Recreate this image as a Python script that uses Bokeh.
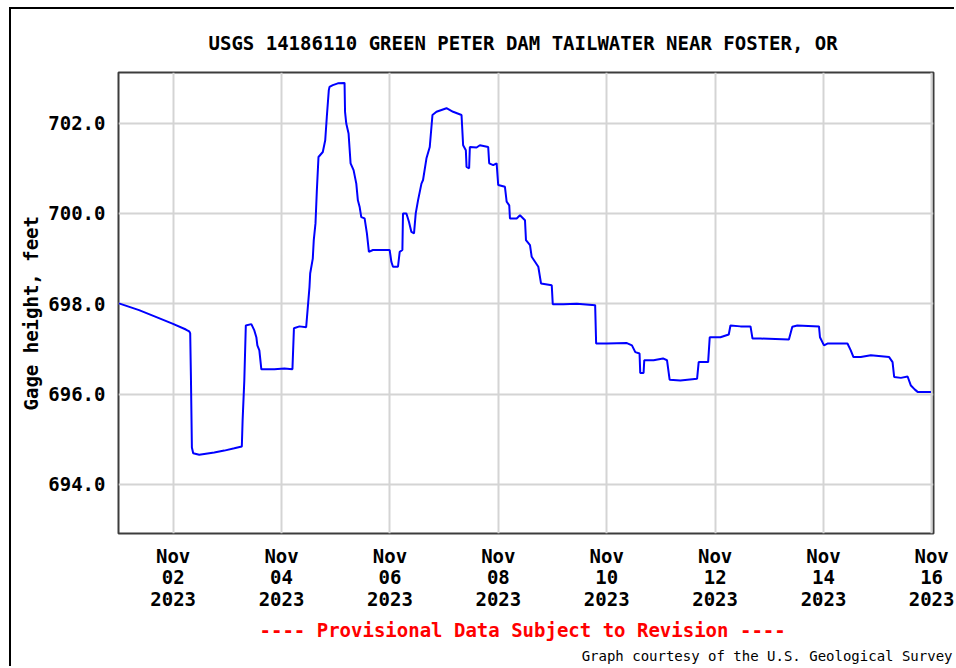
import pandas as pd
from bokeh.plotting import figure
from bokeh.models import (Range1d, FixedTicker, DatetimeTickFormatter,
                          PrintfTickFormatter, Title, ColumnDataSource)
from bokeh.embed import file_html
from bokeh.resources import INLINE

# ---- data (hours since 2023-11-01 00:00, gage height in feet) ----
start = "2023-11-01 00:00"
hours = [0.0, 8.91, 16.32, 23.69, 29.64, 31.10, 31.55, 31.86, 32.30, 32.88,
         35.54, 42.20, 46.64, 51.08, 54.41, 54.76, 55.51, 56.18, 58.62, 59.95,
         60.84, 61.29, 62.17, 63.06, 68.83, 73.27, 76.82, 77.49, 79.93, 82.90,
         84.37, 84.68, 85.83, 86.27, 87.03, 87.61, 88.36, 90.27, 91.34, 92.05,
         92.93, 93.24, 94.71, 96.93, 99.90, 100.12, 100.66, 101.68, 102.57, 103.90,
         105.10, 105.80, 106.56, 107.31, 108.78, 109.80, 110.69, 112.46, 115.44, 119.88,
         120.63, 121.34, 123.56, 124.32, 125.51, 125.78, 127.29, 128.44, 129.51, 130.66,
         131.42, 132.44, 133.95, 134.66, 136.17, 137.63, 138.83, 140.61, 145.04, 147.97,
         151.70, 152.41, 153.61, 153.92, 155.07, 155.39, 158.36, 159.82, 163.51, 163.95,
         165.73, 167.24, 167.95, 170.92, 171.68, 172.83, 173.14, 176.12, 177.58, 179.80,
         180.24, 182.02, 182.77, 184.24, 185.70, 186.90, 191.65, 192.10, 196.80, 202.75,
         210.87, 211.31, 216.06, 224.94, 227.16, 228.65, 230.53, 230.84, 232.31, 232.62,
         236.75, 240.92, 242.70, 243.85, 248.60, 256.01, 256.72, 260.90, 261.61, 266.35,
         270.04, 270.79, 275.23, 279.67, 280.56, 284.11, 296.67, 298.18, 300.40, 309.99,
         310.43, 312.21, 313.72, 322.60, 324.06, 325.26, 328.50, 332.94, 341.06, 342.57,
         343.28, 346.26, 349.23, 350.69, 352.47, 353.66, 359.57]
gage = [698.01, 697.86, 697.71, 697.56, 697.43, 697.39, 697.35, 696.42, 694.82, 694.69,
        694.66, 694.71, 694.75, 694.80, 694.84, 695.42, 696.30, 697.52, 697.55, 697.41,
        697.26, 697.08, 696.97, 696.55, 696.55, 696.57, 696.55, 697.46, 697.50, 697.48,
        698.37, 698.67, 699.00, 699.41, 699.78, 700.48, 701.25, 701.36, 701.62, 702.14,
        702.73, 702.80, 702.84, 702.88, 702.89, 702.25, 701.99, 701.77, 701.11, 700.96,
        700.66, 700.29, 700.15, 699.92, 699.89, 699.56, 699.15, 699.19, 699.19, 699.19,
        698.93, 698.82, 698.82, 699.15, 699.19, 700.00, 700.00, 699.81, 699.59, 699.56,
        700.00, 700.29, 700.66, 700.74, 701.22, 701.47, 702.18, 702.25, 702.33, 702.25,
        702.18, 701.51, 701.40, 701.03, 701.00, 701.47, 701.46, 701.51, 701.47, 701.11,
        701.07, 701.11, 700.63, 700.59, 700.26, 700.18, 699.89, 699.89, 699.96, 699.85,
        699.41, 699.30, 699.04, 698.93, 698.82, 698.45, 698.41, 697.99, 697.99, 698.00,
        697.97, 697.12, 697.12, 697.13, 697.08, 696.93, 696.90, 696.47, 696.47, 696.75,
        696.75, 696.79, 696.75, 696.32, 696.30, 696.34, 696.71, 696.71, 697.26, 697.26,
        697.32, 697.52, 697.50, 697.50, 697.23, 697.23, 697.21, 697.49, 697.52, 697.50,
        697.26, 697.08, 697.12, 697.12, 696.97, 696.82, 696.82, 696.86, 696.82, 696.71,
        696.38, 696.36, 696.39, 696.19, 696.10, 696.05, 696.05]

tick_dates = ["2023-11-02", "2023-11-04", "2023-11-06", "2023-11-08",
              "2023-11-10", "2023-11-12", "2023-11-14", "2023-11-16"]
y_ticks = [694, 696, 698, 700, 702]

title_text = "USGS 14186110 GREEN PETER DAM TAILWATER NEAR FOSTER, OR"
y_label = "Gage height, feet"
provisional = "---- Provisional Data Subject to Revision ----"
courtesy = "Graph courtesy of the U.S. Geological Survey"

# ---- build ----
t0 = pd.Timestamp(start)
times = [t0 + pd.Timedelta(hours=h) for h in hours]
src = ColumnDataSource(dict(t=times, v=gage))

FONT = "DejaVu Sans Mono"

p = figure(width=945, height=659, x_axis_type="datetime",
           output_backend="svg", toolbar_location=None,
           x_range=Range1d(t0 - pd.Timedelta(hours=0.2), t0 + pd.Timedelta(hours=360.7)),
           y_range=Range1d(692.915, 703.12),
           min_border_left=107, min_border_right=23,
           min_border_top=63, min_border_bottom=135)
p.styles = {"margin-left": "9px", "margin-top": "7px",
            "border-left": "2px solid #000000", "border-top": "2px solid #000000"}
p.background_fill_color = "white"
p.border_fill_color = "white"
p.outline_line_color = "#3c3c3c"
p.outline_line_width = 2

p.line("t", "v", source=src, line_color="#0000ff", line_width=2)

tick_ms = [pd.Timestamp(d).value / 1e6 for d in tick_dates]
p.xaxis.ticker = FixedTicker(ticks=tick_ms)
fmt = "%b\n%d\n%Y"
p.xaxis.formatter = DatetimeTickFormatter(days=fmt, months=fmt, hours=fmt,
                                          years=fmt, minutes=fmt)
p.yaxis.ticker = FixedTicker(ticks=y_ticks)
p.yaxis.formatter = PrintfTickFormatter(format="%.1f")

for ax in (p.xaxis[0], p.yaxis[0]):
    ax.axis_line_color = None
    ax.major_tick_line_color = None
    ax.minor_tick_line_color = None
    ax.major_tick_out = 0
    ax.major_tick_in = 0
    ax.major_label_text_font = FONT
    ax.major_label_text_font_style = "bold"
    ax.major_label_text_font_size = "19px"
    ax.major_label_text_color = "#000000"

p.xaxis.major_label_standoff = 11
p.xaxis.major_label_text_line_height = 0.98
p.yaxis.major_label_standoff = 13

p.xgrid.grid_line_color = "#d4d4d4"
p.ygrid.grid_line_color = "#d4d4d4"
p.xgrid.grid_line_width = 2
p.ygrid.grid_line_width = 2

p.add_layout(Title(text=title_text, align="left", offset=90, standoff=37,
                   text_font=FONT, text_font_style="bold", text_font_size="19px",
                   text_color="#000000"), "above")
p.add_layout(Title(text=y_label, align="left", offset=123, standoff=8,
                   text_font=FONT, text_font_style="bold", text_font_size="19px",
                   text_color="#000000"), "left")
p.add_layout(Title(text=provisional, align="left", offset=141, standoff=9,
                   text_font=FONT, text_font_style="bold", text_font_size="19px",
                   text_color="#ff0000"), "below")
p.add_layout(Title(text=courtesy, align="right", offset=-19, standoff=0,
                   text_font=FONT, text_font_style="normal", text_font_size="14px",
                   text_color="#000000"), "below")

open("out.html", "w").write(file_html(p, INLINE))
